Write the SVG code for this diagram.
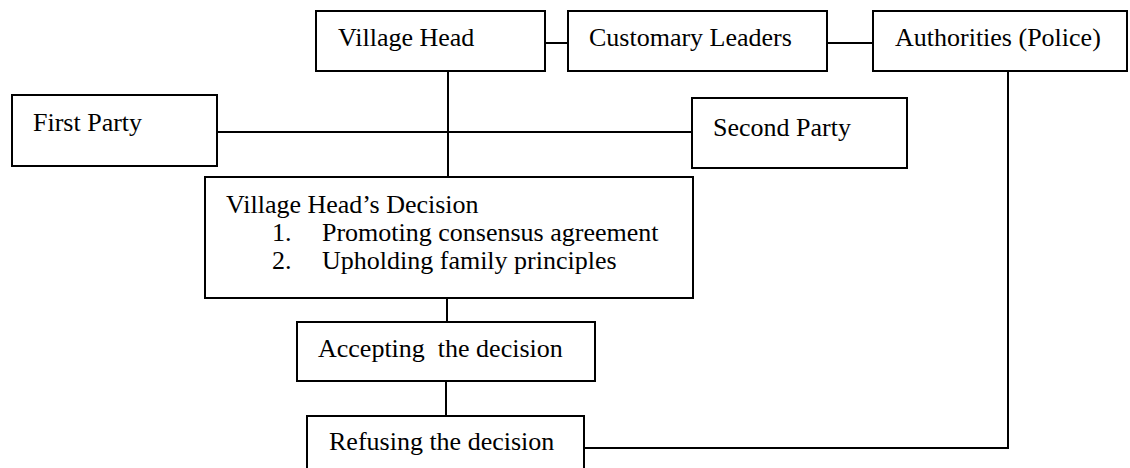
<svg xmlns="http://www.w3.org/2000/svg" width="1130" height="468" viewBox="0 0 1130 468">
<style>
.box{fill:#fff;stroke:#000;stroke-width:2}
.ln{fill:none;stroke:#000;stroke-width:2}
text{font-family:"Liberation Serif","Times New Roman",serif;font-size:26px;fill:#000}
</style>
<rect width="1130" height="468" fill="#fff"/>
<g id="connectors">
<line class="ln" x1="545" y1="43" x2="568" y2="43"/>
<line class="ln" x1="827" y1="43" x2="873" y2="43"/>
<line class="ln" x1="448" y1="71" x2="448" y2="177"/>
<line class="ln" x1="217" y1="132" x2="692" y2="132"/>
<line class="ln" x1="447" y1="298" x2="447" y2="322"/>
<line class="ln" x1="446" y1="381" x2="446" y2="416"/>
<polyline class="ln" points="584,448 1008,448 1008,71"/>
</g>
<g id="village-head"><rect class="box" x="316" y="11" width="229" height="60"/><text x="338" y="46">Village Head</text></g>
<g id="customary-leaders"><rect class="box" x="568" y="11" width="259" height="60"/><text x="589" y="46">Customary Leaders</text></g>
<g id="authorities"><rect class="box" x="873" y="11" width="254" height="60"/><text x="895" y="46">Authorities (Police)</text></g>
<g id="first-party"><rect class="box" x="12" y="95" width="205" height="71"/><text x="33" y="131">First Party</text></g>
<g id="second-party"><rect class="box" x="692" y="98" width="215" height="70"/><text x="713" y="136">Second Party</text></g>
<g id="decision"><rect class="box" x="205" y="177" width="488" height="121"/>
<text x="226" y="213">Village Head’s Decision</text>
<text x="272" y="241">1.</text><text x="322" y="241">Promoting consensus agreement</text>
<text x="272" y="269">2.</text><text x="322" y="269">Upholding family principles</text></g>
<g id="accepting"><rect class="box" x="297" y="322" width="298" height="59"/><text x="318" y="357" xml:space="preserve">Accepting  the decision</text></g>
<g id="refusing"><rect class="box" x="307" y="416" width="277" height="70"/><text x="329" y="450">Refusing the decision</text></g>
</svg>
